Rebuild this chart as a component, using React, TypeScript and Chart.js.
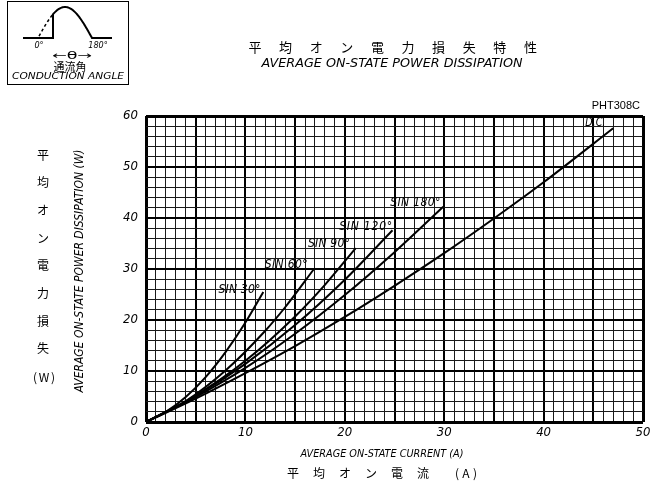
import React, { useEffect, useRef } from 'react';
import { Chart, registerables } from 'chart.js';
Chart.register(...registerables);

// ---- data ----
const dcCurrent = [0, 5, 10, 15, 20, 25, 30, 35, 40, 47];
const dcPower = [0, 4.6, 9.6, 14.9, 20.6, 26.7, 33.1, 39.9, 47.0, 57.6];
const sin180Current = [0, 5, 10, 15, 20, 25, 29.9];
const sin180Power = [0, 4.9, 10.6, 17.3, 24.9, 33.3, 42.2];
const sin120Current = [0, 5, 10, 15, 20, 24.8];
const sin120Power = [0, 5.1, 11.4, 19.0, 27.9, 37.6];
const sin90Current = [0, 5, 10, 15, 18, 21.1];
const sin90Power = [0, 5.2, 12.0, 20.7, 26.9, 34.1];
const sin60Current = [0, 4, 8, 12, 14, 16.9];
const sin60Power = [0, 4.1, 10.1, 17.9, 22.5, 30.0];
const sin30Current = [0, 2, 4, 6, 8, 10, 11.8];
const sin30Power = [0, 2.0, 4.9, 8.8, 13.7, 19.5, 25.5];

const curveLabels = ['SIN 30°', 'SIN 60°', 'SIN 90°', 'SIN 120°', 'SIN 180°', 'D.C.'];
const curveLabelX = [9.4, 14.1, 18.4, 22.1, 27.1, 45.2];
const curveLabelY = [25.9, 30.8, 34.9, 38.2, 42.9, 58.6];
const curveLabelW = [42, 43, 42, 53, 50, 20];

const xTickLabels = [0, 10, 20, 30, 40, 50];
const yTickLabels = [0, 10, 20, 30, 40, 50, 60];

const titleJa = ['平', '均', 'オ', 'ン', '電', '力', '損', '失', '特', '性'];
const titleEn = 'AVERAGE ON-STATE POWER DISSIPATION';
const yTitleJa = ['平', '均', 'オ', 'ン', '電', '力', '損', '失'];
const yTitleEn = 'AVERAGE ON-STATE POWER DISSIPATION (W)';
const xTitleJa = ['平', '均', 'オ', 'ン', '電', '流'];
const xTitleEn = 'AVERAGE ON-STATE CURRENT (A)';
const modelName = 'PHT308C';

const NARROW = '"Liberation Sans Narrow", "DejaVu Sans Condensed", "Liberation Sans", sans-serif';
const CJK = '"Noto Sans CJK JP", "Noto Sans CJK SC", sans-serif';

function pts(xs: number[], ys: number[]) {
  return xs.map((x, i) => ({ x, y: ys[i] }));
}

function drawFit(ctx: CanvasRenderingContext2D, text: string, cx: number, cy: number, width: number, font: string, rot = 0) {
  ctx.save();
  ctx.font = font;
  const w = ctx.measureText(text).width;
  ctx.translate(cx, cy);
  if (rot) ctx.rotate(rot);
  ctx.scale(width / w, 1);
  ctx.textAlign = 'center';
  ctx.textBaseline = 'middle';
  ctx.fillText(text, 0, 0);
  ctx.restore();
}

function drawSpaced(ctx: CanvasRenderingContext2D, text: string, cx: number, cy: number, width: number, font: string) {
  ctx.save();
  ctx.font = font;
  const w = ctx.measureText(text).width;
  const chars = Array.from(text);
  if (w >= width || chars.length < 2) {
    ctx.restore();
    drawFit(ctx, text, cx, cy, width, font);
    return;
  }
  const extra = (width - w) / (chars.length - 1);
  let x = cx - width / 2;
  ctx.textAlign = 'left';
  ctx.textBaseline = 'middle';
  for (const c of chars) {
    ctx.fillText(c, x, cy);
    x += ctx.measureText(c).width + extra;
  }
  ctx.restore();
}

const textPlugin = {
  id: 'textPlugin',
  afterDraw(chart: any) {
    const ctx: CanvasRenderingContext2D = chart.ctx;
    const xs = chart.scales.x;
    const ys = chart.scales.y;
    ctx.save();
    ctx.fillStyle = '#000';
    ctx.strokeStyle = '#000';
    ctx.textAlign = 'center';
    ctx.textBaseline = 'middle';

    // title (Japanese)
    ctx.font = `13px ${CJK}`;
    titleJa.forEach((c, i) => ctx.fillText(c, 255 + i * 30.6, 47));
    // title (English)
    drawFit(ctx, titleEn, 392, 64, 261, `italic 12px ${NARROW}`);

    // y title Japanese (vertical)
    ctx.font = `12px ${CJK}`;
    yTitleJa.forEach((c, i) => ctx.fillText(c, 43, 155 + i * 27.7));
    drawSpaced(ctx, '(W)', 44, 377, 22, `12px ${CJK}`);
    // y title English (rotated)
    drawFit(ctx, yTitleEn, 80, 271, 243, `italic 12px ${NARROW}`, -Math.PI / 2);

    // x titles
    drawFit(ctx, xTitleEn, 382, 454, 163, `italic 11px ${NARROW}`);
    ctx.font = `12px ${CJK}`;
    xTitleJa.forEach((c, i) => ctx.fillText(c, 293 + i * 26, 473));
    drawSpaced(ctx, '(A)', 466, 473, 22, `12px ${CJK}`);

    // model name
    ctx.font = `11px "Liberation Sans", Arial, sans-serif`;
    ctx.textAlign = 'right';
    ctx.fillText(modelName, 640, 106);
    ctx.textAlign = 'center';

    // curve labels
    curveLabels.forEach((t, i) => {
      const px = xs.getPixelForValue(curveLabelX[i]);
      const py = ys.getPixelForValue(curveLabelY[i]);
      drawSpaced(ctx, t, px, py, curveLabelW[i], `italic 12px ${NARROW}`);
    });

    // conduction angle icon
    ctx.lineWidth = 1;
    ctx.strokeRect(7.5, 1.5, 121, 83);
    ctx.lineWidth = 2;
    ctx.beginPath();
    ctx.moveTo(23, 38);
    ctx.lineTo(53, 38);
    ctx.lineTo(53, 38 - 31 * Math.sin(((53 - 38) / 54) * Math.PI));
    for (let x = 53; x <= 92; x += 0.5) {
      ctx.lineTo(x, 38 - 31 * Math.sin(((x - 38) / 54) * Math.PI));
    }
    ctx.lineTo(112, 38);
    ctx.stroke();
    ctx.beginPath();
    ctx.setLineDash([3, 2.5]);
    ctx.lineWidth = 1.5;
    for (let x = 39; x <= 53; x += 0.5) {
      const y = 38 - 31 * Math.sin(((x - 38) / 54) * Math.PI);
      if (x === 39) ctx.moveTo(x, y);
      else ctx.lineTo(x, y);
    }
    ctx.stroke();
    ctx.setLineDash([]);
    ctx.font = `italic 9px ${NARROW}`;
    ctx.fillText('0°', 39, 46);
    ctx.fillText('180°', 98, 46);
    drawFit(ctx, '←θ→', 72, 56, 40, `10px "DejaVu Sans", sans-serif`);
    ctx.font = `11px ${CJK}`;
    ctx.fillText('通流角', 70, 67);
    drawFit(ctx, 'CONDUCTION ANGLE', 68, 77, 112, `italic 9px ${NARROW}`);

    ctx.restore();
  },
};

export default function App() {
  const ref = useRef<HTMLCanvasElement | null>(null);
  useEffect(() => {
    if (!ref.current) return;
    const line = (xsArr: number[], ysArr: number[], label: string) => ({
      label,
      data: pts(xsArr, ysArr),
      showLine: true,
      borderColor: '#000',
      backgroundColor: '#000',
      borderWidth: 2,
      pointRadius: 0,
      cubicInterpolationMode: 'monotone' as const,
      fill: false,
    });
    const chart = new Chart(ref.current, {
      type: 'scatter',
      data: {
        datasets: [
          line(sin30Current, sin30Power, 'SIN 30°'),
          line(sin60Current, sin60Power, 'SIN 60°'),
          line(sin90Current, sin90Power, 'SIN 90°'),
          line(sin120Current, sin120Power, 'SIN 120°'),
          line(sin180Current, sin180Power, 'SIN 180°'),
          line(dcCurrent, dcPower, 'D.C.'),
        ],
      },
      options: {
        responsive: false,
        animation: false,
        events: [],
        layout: { padding: { left: 0, right: 21, top: 116, bottom: 0 } },
        plugins: { legend: { display: false }, tooltip: { enabled: false } },
        scales: {
          x: {
            type: 'linear',
            min: 0,
            max: 50,
            afterFit: (s: any) => { s.height = 65; },
            border: { display: false },
            grid: {
              drawTicks: false,
              color: (c: any) => (c.tick && c.tick.value % 5 === 0 ? '#000' : '#1a1a1a'),
              lineWidth: (c: any) => {
                const v = c.tick ? c.tick.value : 0;
                if (v === 0 || v === 50) return 3;
                return v % 5 === 0 ? 2 : 1;
              },
            },
            ticks: {
              stepSize: 1,
              autoSkip: false,
              maxRotation: 0,
              padding: 3,
              color: '#000',
              font: { family: NARROW, size: 13, style: 'italic' },
              callback: (v: any) => (xTickLabels.includes(Number(v)) ? String(v) : ''),
            },
          },
          y: {
            type: 'linear',
            min: 0,
            max: 60,
            afterFit: (s: any) => { s.width = 146; },
            border: { display: false },
            grid: {
              drawTicks: false,
              color: (c: any) => (c.tick && c.tick.value % 10 === 0 ? '#000' : '#1a1a1a'),
              lineWidth: (c: any) => {
                const v = c.tick ? c.tick.value : 0;
                if (v === 0 || v === 60) return 3;
                return v % 10 === 0 ? 2 : 1;
              },
            },
            ticks: {
              stepSize: 2,
              autoSkip: false,
              padding: 8,
              color: '#000',
              font: { family: NARROW, size: 13, style: 'italic' },
              callback: (v: any) => (yTickLabels.includes(Number(v)) ? String(v) : ''),
            },
          },
        },
      },
      plugins: [textPlugin],
    });
    return () => chart.destroy();
  }, []);
  return (
    <div style={{ position: 'absolute', left: 0, top: 0, width: 664, height: 487, background: '#fff' }}>
      <canvas ref={ref} width={664} height={487} style={{ display: 'block' }} />
    </div>
  );
}
